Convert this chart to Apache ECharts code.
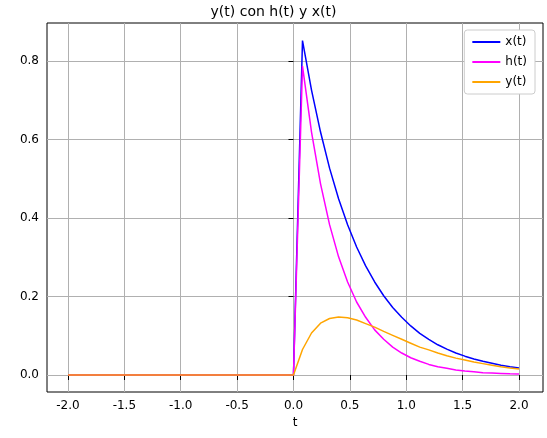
<!DOCTYPE html><html><head><meta charset="utf-8"><script src="https://cdn.jsdelivr.net/npm/echarts@6/dist/echarts.min.js"></script></head><body style="margin:0"><div id="c" style="width:547px;height:438px"></div><script>
const tNeg = [-2,-1.92,-1.84,-1.76,-1.68,-1.6,-1.52,-1.44,-1.36,-1.28,-1.2,-1.12,-1.04,-0.96,-0.88,-0.8,-0.72,-0.64,-0.56,-0.48,-0.4,-0.32,-0.24,-0.16,-0.08,0];
const tPos = [0.08,0.16,0.24,0.32,0.4,0.48,0.56,0.64,0.72,0.8,0.88,0.96,1.04,1.12,1.2,1.28,1.36,1.44,1.52,1.6,1.68,1.76,1.84,1.92,2];
const xPos = [.852,.726,.619,.527,.449,.383,.326,.278,.237,.202,.172,.147,.125,.106,.091,.077,.066,.056,.048,.041,.035,.030,.025,.021,.018];
const hPos = [.787,.619,.487,.383,.301,.237,.186,.147,.115,.091,.071,.056,.044,.035,.027,.021,.017,.013,.010,.008,.006,.005,.004,.003,.0025];
const yPos = [.065,.107,.132,.144,.148,.146,.140,.131,.122,.111,.101,.091,.081,.071,.064,.056,.049,.043,.038,.033,.029,.025,.021,.018,.0155];
const xTicks = [-2,-1.5,-1,-0.5,0,0.5,1,1.5,2];
const yTicks = [0,0.2,0.4,0.6,0.8];
const t = tNeg.concat(tPos);
const pair = v => t.map((tt,i)=>[tt, i<tNeg.length?0:v[i-tNeg.length]]);
const F='DejaVu Sans';
const ch = echarts.init(document.getElementById('c'));
ch.setOption({
  animation:false,
  title:{text:'y(t) con h(t) y x(t)',left:'center',top:0,textStyle:{fontFamily:F,fontSize:14,fontWeight:'normal',color:'#000'}},
  legend:{right:12,top:30,orient:'vertical',itemWidth:28,itemHeight:2,itemGap:8,icon:'rect',
    textStyle:{fontFamily:F,fontSize:12,color:'#000'},borderColor:'#ccc',borderWidth:1,borderRadius:3,padding:[6,8],backgroundColor:'#fff',
    data:['x(t)','h(t)','y(t)']},
  grid:{left:47,right:4,top:23,bottom:46,show:true,borderColor:'#000',borderWidth:1},
  xAxis:{type:'value',min:-2.186,max:2.213,name:'t',nameLocation:'middle',nameGap:24,nameTextStyle:{fontFamily:F,fontSize:12,color:'#000'},
    axisLine:{show:false},axisTick:{show:true,customValues:xTicks,lineStyle:{color:'#000'}},
    axisLabel:{customValues:xTicks,fontFamily:F,fontSize:12,color:'#000',formatter:v=>v.toFixed(1)},
    splitLine:{show:true,lineStyle:{color:'#b0b0b0'}}},
  yAxis:{type:'value',min:-0.0433,max:0.8968,
    axisLine:{show:false},axisTick:{show:true,customValues:yTicks,lineStyle:{color:'#000'}},
    axisLabel:{customValues:yTicks,fontFamily:F,fontSize:12,color:'#000',formatter:v=>v.toFixed(1)},
    splitLine:{show:true,lineStyle:{color:'#b0b0b0'}}},
  series:[
    {name:'x(t)',type:'line',data:pair(xPos),showSymbol:false,color:'#0000ff',lineStyle:{width:1.5}},
    {name:'h(t)',type:'line',data:pair(hPos),showSymbol:false,color:'#ff00ff',lineStyle:{width:1.5}},
    {name:'y(t)',type:'line',data:pair(yPos),showSymbol:false,color:'#ffa500',lineStyle:{width:1.5}}
  ]
});
</script></body></html>
